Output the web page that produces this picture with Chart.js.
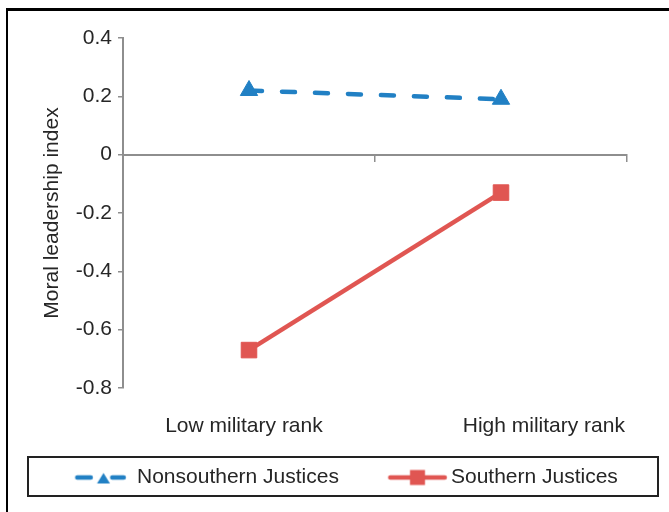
<!DOCTYPE html>
<html lang="en">
<head>
<meta charset="UTF-8">
<title>Moral leadership index</title>
<script src="https://cdn.jsdelivr.net/npm/chart.js"></script>
<style>
  html, body { margin: 0; padding: 0; background: #fff; overflow: hidden; }
  .wrap { position: relative; width: 669px; height: 512px; }
  .frame { position: absolute; left: 6px; top: 8px; width: 700px; height: 600px;
           border-left: 2px solid #000; border-top: 3px solid #000; pointer-events: none; }
  .legend-box { position: absolute; left: 27px; top: 456px; width: 632px; height: 41px;
                border: 2px solid #222; box-sizing: border-box; pointer-events: none; }
  #chart { position: absolute; left: 0; top: 0; }
</style>
</head>
<body>
<div class="wrap">
  <canvas id="chart" width="669" height="512"></canvas>
  <div class="frame"></div>
  <div class="legend-box"></div>
</div>
<script>
// data
const categories = ['Low military rank', 'High military rank'];
const nonsouthern = [0.22, 0.19];
const southern = [-0.67, -0.13];
const yTicks = [-0.8, -0.6, -0.4, -0.2, 0, 0.2, 0.4];
const seriesNames = ['Nonsouthern Justices', 'Southern Justices'];

// where the category names sit under the plot (fraction of plot width)
const labelSpots = [0.24, 0.835];

const blue = '#2180c4';
const red = '#e05652';
const axisGray = '#8e8e8e';
const textColor = '#262626';

Chart.defaults.font.family = "'Liberation Sans', Arial, sans-serif";
Chart.defaults.font.size = 21;
Chart.defaults.color = textColor;

// little legend samples: line + marker (transparent margin shifts them into place)
function sample(w, h, draw) {
    const c = document.createElement('canvas');
    c.width = w;
    c.height = h;
    draw(c.getContext('2d'));
    return c;
}

const blueSample = sample(82, 24, ctx => {
    ctx.strokeStyle = blue;
    ctx.fillStyle = blue;
    ctx.lineWidth = 4.5;
    ctx.lineCap = 'round';
    ctx.beginPath();
    ctx.moveTo(32.5, 12); ctx.lineTo(46, 12);
    ctx.moveTo(67.5, 12); ctx.lineTo(79, 12);
    ctx.stroke();
    ctx.beginPath();
    ctx.moveTo(58.75, 7.5);
    ctx.lineTo(65.25, 18);
    ctx.lineTo(52.25, 18);
    ctx.closePath();
    ctx.fill();
});

const redSample = sample(96, 24, ctx => {
    ctx.strokeStyle = red;
    ctx.fillStyle = red;
    ctx.lineWidth = 4.5;
    ctx.lineCap = 'round';
    ctx.beginPath();
    ctx.moveTo(38.5, 12); ctx.lineTo(93, 12);
    ctx.stroke();
    ctx.fillRect(58.25, 4.5, 15, 15);
});

const samples = [blueSample, redSample];

const chart = new Chart(document.getElementById('chart'), {
    type: 'line',
    data: {
        labels: categories,
        datasets: [
            {
                label: seriesNames[0],
                data: nonsouthern,
                borderColor: blue,
                backgroundColor: blue,
                borderWidth: 4.5,
                borderDash: [13, 20],
                borderCapStyle: 'round',
                tension: 0,
                pointStyle: 'triangle',
                pointRadius: 10,
                pointBorderWidth: 1,
                pointBackgroundColor: blue,
                pointBorderColor: blue
            },
            {
                label: seriesNames[1],
                data: southern,
                borderColor: red,
                backgroundColor: red,
                borderWidth: 4.5,
                tension: 0,
                pointStyle: 'rect',
                pointRadius: 11,
                pointBorderWidth: 1,
                pointBackgroundColor: red,
                pointBorderColor: red
            }
        ]
    },
    options: {
        responsive: false,
        animation: false,
        layout: {
            padding: { left: 25, right: 0, top: 38, bottom: 14 }
        },
        plugins: {
            tooltip: { enabled: false },
            legend: {
                position: 'bottom',
                align: 'start',
                labels: {
                    usePointStyle: true,
                    pointStyleWidth: 81.5,
                    padding: 20,
                    color: textColor,
                    font: { size: 21 },
                    generateLabels: (c) => c.data.datasets.map((ds, i) => ({
                        text: ds.label,
                        pointStyle: samples[i],
                        datasetIndex: i,
                        hidden: false,
                        fontColor: textColor,
                        fillStyle: 'transparent',
                        strokeStyle: 'transparent',
                        lineWidth: 0
                    }))
                }
            }
        },
        scales: {
            // category axis sitting on y = 0, just the line and its ticks
            x: {
                type: 'category',
                position: { y: 0 },
                offset: true,
                grid: {
                    offset: true,
                    drawOnChartArea: false,
                    drawTicks: true,
                    tickLength: 6,
                    color: axisGray,
                    lineWidth: 1.5
                },
                border: { display: true, color: axisGray, width: 2 },
                ticks: { display: false }
            },
            // category names along the bottom
            xLab: {
                type: 'linear',
                axis: 'x',
                position: 'bottom',
                min: 0,
                max: 1,
                grid: { display: false, drawTicks: false },
                border: { display: false },
                afterBuildTicks: (s) => { s.ticks = labelSpots.map(v => ({ value: v })); },
                afterFit: (s) => { s.height = 59; },
                ticks: {
                    padding: 26,
                    autoSkip: false,
                    maxRotation: 0,
                    color: textColor,
                    callback: (v, i) => categories[i]
                }
            },
            y: {
                min: -0.8,
                max: 0.4,
                afterBuildTicks: (s) => { s.ticks = yTicks.map(v => ({ value: v })); },
                afterFit: (s) => { s.width = 98; },
                grid: {
                    drawOnChartArea: false,
                    drawTicks: true,
                    tickLength: 5,
                    color: axisGray,
                    lineWidth: 1.5
                },
                border: { display: true, color: axisGray, width: 2 },
                ticks: {
                    padding: 6,
                    color: textColor,
                    callback: (v) => String(v)
                },
                title: {
                    display: true,
                    text: 'Moral leadership index',
                    color: textColor,
                    padding: { top: 15, bottom: 0 }
                }
            },
            // empty right box so the plot stops short of the edge
            yPad: {
                type: 'linear',
                axis: 'y',
                position: 'right',
                grid: { display: false, drawTicks: false },
                border: { display: false },
                ticks: { display: false },
                afterFit: (s) => { s.width = 42; }
            }
        }
    }
});
</script>
</body>
</html>
